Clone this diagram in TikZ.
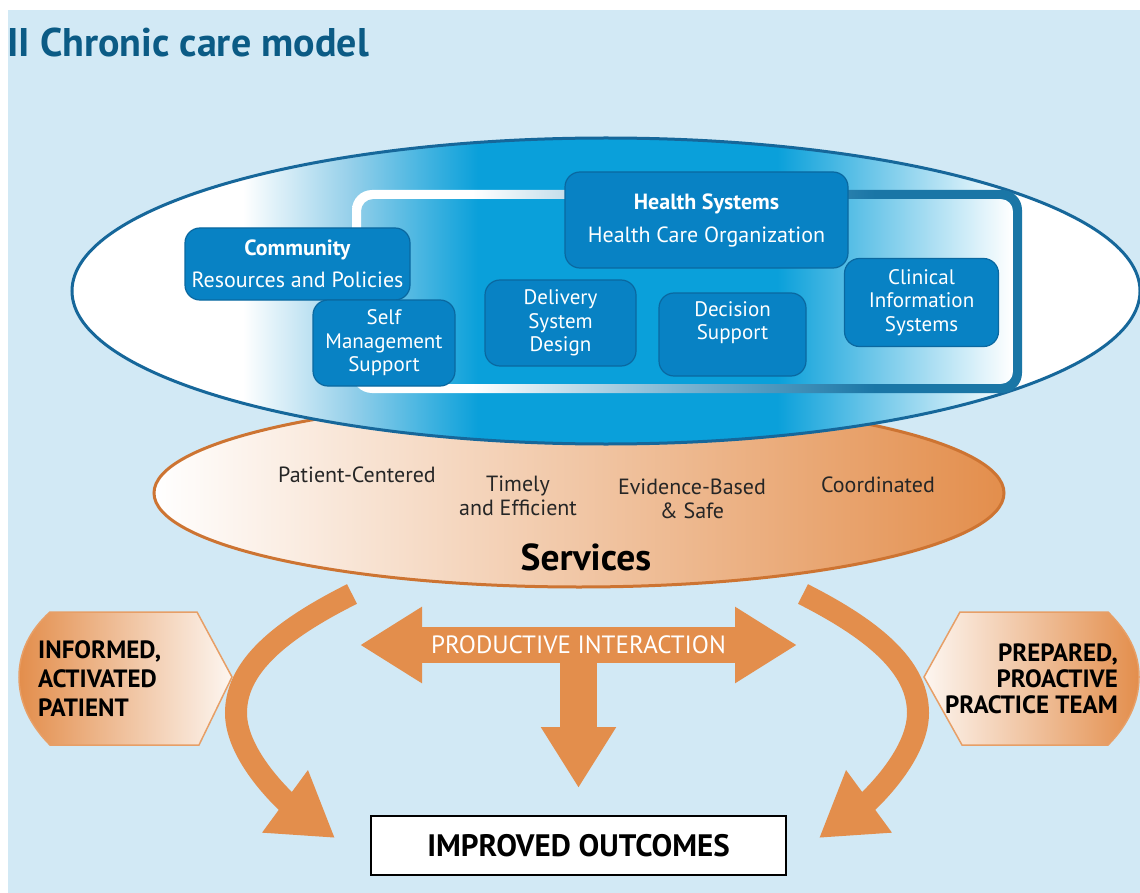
\documentclass[tikz,border=0pt]{standalone}
\usepackage{fontspec}
\setmainfont{PT Sans}
\usetikzlibrary{arrows.meta}

\definecolor{bgblue}{RGB}{210,233,245}
\definecolor{titleblue}{RGB}{11,91,133}
\definecolor{midblue}{RGB}{10,160,218}
\definecolor{paleblue}{RGB}{150,208,234}
\definecolor{lineblue}{RGB}{22,103,154}
\definecolor{boxblue}{RGB}{8,130,196}
\definecolor{boxline}{RGB}{10,104,160}
\definecolor{frameblue}{RGB}{26,118,166}
\definecolor{framemid}{RGB}{120,178,208}
\definecolor{careorange}{RGB}{227,142,76}
\definecolor{orangeline}{RGB}{205,116,50}

% the path's bounding box runs from 25bp to 75bp of these
\pgfdeclarehorizontalshading{systemfade}{100bp}{color(0bp)=(white); color(33bp)=(white);
  color(38bp)=(paleblue); color(44bp)=(midblue); color(58bp)=(midblue);
  color(69bp)=(white); color(100bp)=(white)}
\pgfdeclarehorizontalshading{framefade}{100bp}{color(0bp)=(white); color(34bp)=(white);
  color(50bp)=(framemid); color(64bp)=(frameblue); color(100bp)=(frameblue)}

\begin{document}
\begin{tikzpicture}[x=1pt, y=-1pt,
  model/.style={rounded corners=15pt, fill=boxblue, draw=boxline, line width=1.2pt,
    text=white, align=center, inner sep=0pt, font=\fontsize{21}{23.5}\selectfont},
  quality/.style={text=black!85, align=center, inner sep=0pt, font=\fontsize{22}{24.5}\selectfont},
  flow/.style={careorange, line width=22pt},
  hexa/.style={draw=careorange!85!white, line width=1.5pt},
  actor/.style={text=black, inner sep=0pt, font=\bfseries\fontsize{25}{29}\selectfont}]
  \useasboundingbox (0,0) rectangle (1140,893);
  \fill[white] (0,0) rectangle (1140,893);
  \fill[bgblue] (8,10) rectangle (1140,893);

  \node[anchor=base west, inner sep=0pt, text=titleblue, font=\bfseries\fontsize{40}{42}\selectfont]
    (heading) at (7,57) {II Chronic care model};

  % Services (lies under the health system)
  \shadedraw[left color=white, right color=careorange, draw=orangeline, line width=3pt]
    (579,493) ellipse [x radius=425pt, y radius=94pt];
  \node[quality] (centred) at (357,475) {Patient-Centered};
  \node[quality] (timely) at (518,496) {Timely\\and Efficient};
  \node[quality] (evidence) at (692,499) {Evidence-Based\\\& Safe};
  \node[quality] (coordinated) at (878,485) {Coordinated};
  \node[text=black, inner sep=0pt, font=\bfseries\fontsize{37.5}{40}\selectfont]
    (services) at (586,557) {Services};

  % Health system and community
  \shadedraw[shading=systemfade, draw=lineblue, line width=3pt]
    (606,291) ellipse [x radius=534pt, y radius=153pt];
  \shade[shading=framefade, even odd rule] [rounded corners=20pt] (352,190) rectangle (1022,393)
    [rounded corners=12pt] (361,199) rectangle (1013,384);

  \node[model, minimum width=283pt, minimum height=96pt, font=\fontsize{22}{33}\selectfont]
    (health) at (706.5,220) {\textbf{Health Systems}\\Health Care Organization};
  \node[model, minimum width=225pt, minimum height=72pt, font=\fontsize{22}{32}\selectfont]
    (community) at (297.5,264) {\textbf{Community}\\Resources and Policies};
  \node[model, minimum width=142pt, minimum height=86pt] (selfcare) at (384,343)
    {Self\\Management\\Support};
  \node[model, minimum width=151pt, minimum height=86pt] (delivery) at (560.5,323)
    {Delivery\\System\\Design};
  \node[model, minimum width=147pt, minimum height=83pt, text depth=28pt] (decision) at (732.5,334.5)
    {Decision\\Support};
  \node[model, minimum width=154pt, minimum height=88pt] (clinical) at (921.5,302.5)
    {Clinical\\Information\\Systems};

  % Productive interaction and outcomes
  \node[draw=black, line width=2pt, fill=white, minimum width=415pt, minimum height=59pt,
    font=\bfseries\fontsize{31}{34}\selectfont] (outcomes) at (578.5,845.5) {IMPROVED OUTCOMES};
  \coordinate (talkleft) at (360,645);
  \coordinate (talkright) at (797,645);
  \coordinate (talkmid) at (578.5,645);
  \draw[careorange, line width=36pt, {Triangle[width=72pt,length=62pt]}-{Triangle[width=72pt,length=62pt]}]
    (talkleft) -- (talkright);
  \draw[careorange, line width=37pt, -{Triangle[width=71pt,length=61pt]}, shorten >=27pt]
    (talkmid) -- (outcomes.north);
  \node[text=white, inner sep=0pt, font=\fontsize{25}{27}\selectfont] (interaction) at (talkmid)
    {PRODUCTIVE INTERACTION};

  % Patient side
  \coordinate (patientstart) at (352,594);
  \coordinate (patienttip) at (335,838);
  \draw[flow, -{Triangle[width=73pt,length=62pt]}] (patientstart)
    .. controls (270,635) and (236,672) .. (236,713)
    .. controls (236,758) and (290,805) .. (patienttip);
  \shadedraw[hexa, left color=careorange, right color=careorange!8!white]
    (50,612) -- (197,612) -- (232,677) -- (199,745) -- (50,745)
    .. controls (30,725) and (19,702) .. (19,677) .. controls (19,652) and (30,630) .. cycle;
  \node[actor, anchor=west, align=left] (patient) at (38,679) {INFORMED,\\ACTIVATED\\PATIENT};

  % Practice team side
  \coordinate (teamstart) at (803,594);
  \coordinate (teamtip) at (819,838);
  \draw[flow, -{Triangle[width=73pt,length=62pt]}] (teamstart)
    .. controls (884,635) and (918,672) .. (918,713)
    .. controls (918,758) and (864,805) .. (teamtip);
  \shadedraw[hexa, left color=careorange!8!white, right color=careorange]
    (924,677) -- (960,612) -- (1108,612)
    .. controls (1128,632) and (1139,652) .. (1139,677) .. controls (1139,702) and (1128,725) .. (1108,745)
    -- (962,745) -- cycle;
  \node[actor, anchor=east, align=right, font=\bfseries\fontsize{25}{26}\selectfont]
    (team) at (1118,679) {PREPARED,\\PROACTIVE\\PRACTICE TEAM};
\end{tikzpicture}
\end{document}
